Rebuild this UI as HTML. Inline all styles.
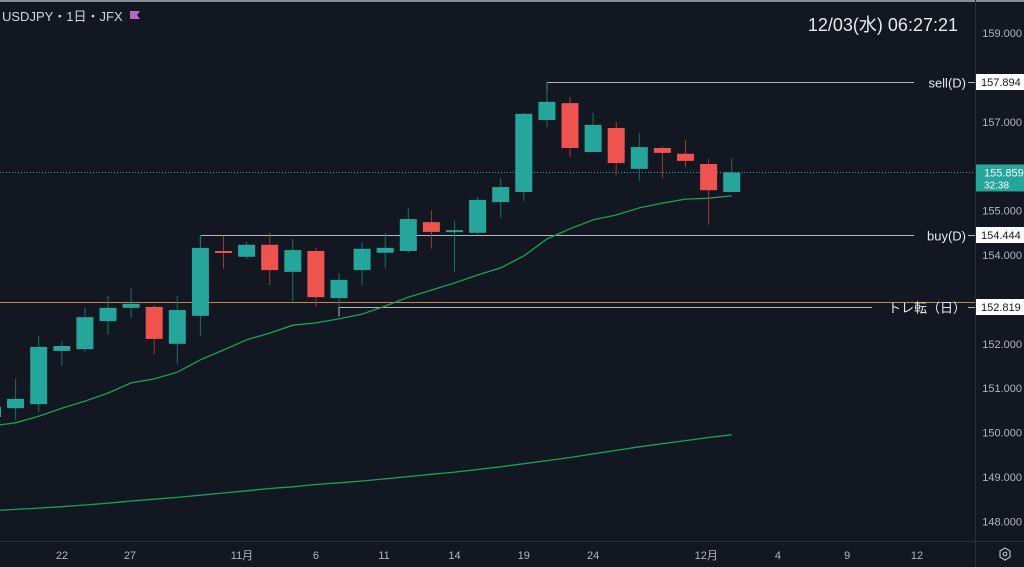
<!DOCTYPE html>
<html><head><meta charset="utf-8"><style>
body{margin:0;background:#131722;}
svg{display:block;font-family:"Liberation Sans","Noto Sans CJK JP",sans-serif;}
</style></head><body>
<svg id="c" width="1024" height="567" viewBox="0 0 1024 567">
<rect x="0" y="0" width="1024" height="567" fill="#131722"/>
<rect x="0" y="0" width="1024" height="2" fill="#8a8d94"/>
<g id="plot"></g>
<line x1="975.5" y1="0" x2="975.5" y2="567" stroke="#2a2e39"/>
<line x1="0" y1="541.5" x2="1024" y2="541.5" stroke="#2a2e39"/>
<g id="yaxis"></g>
<g id="xaxis"></g>
<g id="tags"></g>
<text x="2" y="21" fill="#d1d4dc" font-size="13">USDJPY・1日・JFX</text>
<path d="M130 11h10l-3 4 3 4h-10z" fill="#ba68c8"/>
<text x="958" y="31" text-anchor="end" fill="#e6e8ee" font-size="18">12/03(水)  06:27:21</text>
<g><path d="M1005 548l5 3v6l-5 3-5-3v-6z" fill="none" stroke="#b2b5be" stroke-width="1.2"/><circle cx="1005" cy="554" r="1.8" fill="none" stroke="#b2b5be" stroke-width="1.2"/></g>
</svg>
<script>
const opens=[150.35,150.55,150.64,151.84,151.88,152.51,152.81,152.83,152.00,152.63,154.09,153.96,154.23,153.62,154.09,153.03,153.66,154.05,154.09,154.74,154.52,154.50,155.19,155.42,157.04,157.42,156.32,156.86,155.94,156.41,156.28,156.05,155.42];
const highs=[150.73,151.21,152.18,152.06,152.81,153.08,153.26,152.87,153.08,154.45,154.43,154.29,154.50,154.36,154.16,153.59,154.27,154.50,155.06,155.01,154.77,155.31,155.73,157.20,157.894,157.56,157.20,157.00,156.75,156.45,156.59,156.16,156.18];
const lows=[150.28,150.28,150.46,151.50,151.82,152.20,152.58,151.77,151.55,152.18,153.69,153.91,153.32,152.96,152.83,152.819,153.32,153.69,154.05,154.14,153.62,154.444,154.83,155.22,156.88,156.21,156.32,155.80,155.67,155.73,155.98,154.68,155.42];
const closes=[150.58,150.76,151.93,151.95,152.60,152.81,152.90,152.11,152.76,154.16,154.05,154.23,153.66,154.11,153.05,153.44,154.14,154.16,154.81,154.52,154.56,155.24,155.53,157.18,157.45,156.41,156.93,156.07,156.43,156.30,156.12,155.46,155.859];
const maFast=[150.15,150.22,150.37,150.55,150.71,150.89,151.12,151.21,151.36,151.64,151.86,152.09,152.24,152.42,152.47,152.56,152.67,152.85,153.05,153.21,153.37,153.55,153.71,153.98,154.36,154.59,154.79,154.90,155.06,155.17,155.26,155.28,155.33];
const maSlow=[148.24,148.27,148.30,148.33,148.37,148.41,148.46,148.50,148.54,148.59,148.64,148.69,148.74,148.78,148.83,148.87,148.91,148.96,149.01,149.06,149.11,149.17,149.23,149.30,149.37,149.44,149.52,149.60,149.68,149.75,149.82,149.89,149.95];
const yTicks=[159,157,155,154,152,151,150,149,148];
const xLabels=["22","27","11月","6","11","14","19","24","12月","4","9","12"];
const xLabelIdx=[3.01,5.95,10.8,14,16.95,20,23,26,30.9,34,37,40.02];
const levelNames=["sell(D)","buy(D)","トレ転（日）"];
const levelValues=[157.894,154.444,152.819];
const levelStart=[24,9,15];
const orangeLevel=152.93;
const lastPrice=155.859;

const NS="http://www.w3.org/2000/svg";
const Y=p=>33+(159-p)*44.4;
const X=i=>-7.5+23.1*i;
function mk(tag,attrs,parent){const e=document.createElementNS(NS,tag);for(const k in attrs)e.setAttribute(k,attrs[k]);parent.appendChild(e);return e;}
const plot=document.getElementById('plot');
let dl=mk('line',{x1:0,x2:975,y1:Y(lastPrice),y2:Y(lastPrice),stroke:'#26a69a','stroke-dasharray':'1 2','stroke-width':1},plot);


let ol=mk('line',{x1:0,x2:975,y1:Y(orangeLevel),y2:Y(orangeLevel),stroke:'#c8873a','stroke-width':1},plot);


levelValues.forEach((v,k)=>{
  const g=mk('g',{},plot);
  
  
  const y=Math.round(Y(v))+0.5, x0=X(levelStart[k]);
  const txtW=k==2?92:50;
  mk('line',{x1:x0,x2:968-txtW-4,y1:y,y2:y,stroke:'#b2b5be','stroke-width':1},g);
  mk('line',{x1:x0,x2:x0,y1:y,y2:y+9,stroke:'#b2b5be','stroke-width':1},g);
  mk('line',{x1:968,x2:975,y1:y,y2:y,stroke:'#b2b5be','stroke-width':1},g);
  const t=mk('text',{x:966,y:y+5,'text-anchor':'end',fill:'#e6e8ee','font-size':13},g);
  t.textContent=levelNames[k];
  
  
});
function ma(arr,name){
  const pts=arr.map((v,i)=>X(i).toFixed(1)+','+Y(v).toFixed(1)).join(' ');
  const p=mk('polyline',{points:pts,fill:'none',stroke:'#1aa05a','stroke-width':1.3},plot);
  
  
}
ma(maSlow,'ma-slow-line');
ma(maFast,'ma-fast-line');
opens.forEach((o,i)=>{
  const c=closes[i], up=c>=o, col=up?'#26a69a':'#ef5350', wc=up?'#1f6f68':'#9c3b3a';
  const x=X(i);
  const g=mk('g',{},plot);
  
  
  mk('line',{x1:x,x2:x,y1:Y(highs[i]),y2:Y(lows[i]),stroke:wc,'stroke-width':1},g);
  const top=Y(Math.max(o,c)), h=Math.max(2,Y(Math.min(o,c))-top);
  mk('rect',{x:x-8.5,y:top,width:17,height:h,fill:col},g);
});
const ya=document.getElementById('yaxis');
yTicks.forEach(v=>{
  const t=mk('text',{x:1022,y:Y(v)+4,'text-anchor':'end',fill:'#b2b5be','font-size':11},ya);
  t.textContent=v.toFixed(3);
  
  
});
const xa=document.getElementById('xaxis');
xLabels.forEach((s,k)=>{
  const t=mk('text',{x:X(xLabelIdx[k]),y:559,'text-anchor':'middle',fill:'#b2b5be','font-size':11},xa);
  t.textContent=s;
  
  
});
const tg=document.getElementById('tags');
levelValues.forEach(v=>{
  const y=Math.round(Y(v));
  const g=mk('g',{},tg);
  
  
  mk('rect',{x:976,y:y-8,width:48,height:16,fill:'#ffffff'},g);
  const t=mk('text',{x:981,y:y+4,fill:'#131722','font-size':11},g);
  t.textContent=v.toFixed(3);
});
const ly=Y(lastPrice);
const lg=mk('g',{},tg);


mk('rect',{x:976,y:ly-8,width:48,height:27,fill:'#26a69a'},lg);
const t1=mk('text',{x:984,y:ly+4,fill:'#ffffff','font-size':11},lg);t1.textContent=lastPrice.toFixed(3);
const t2=mk('text',{x:984,y:ly+16,fill:'#ffffff','font-size':10},lg);t2.textContent='32:38';
</script>
</body></html>
